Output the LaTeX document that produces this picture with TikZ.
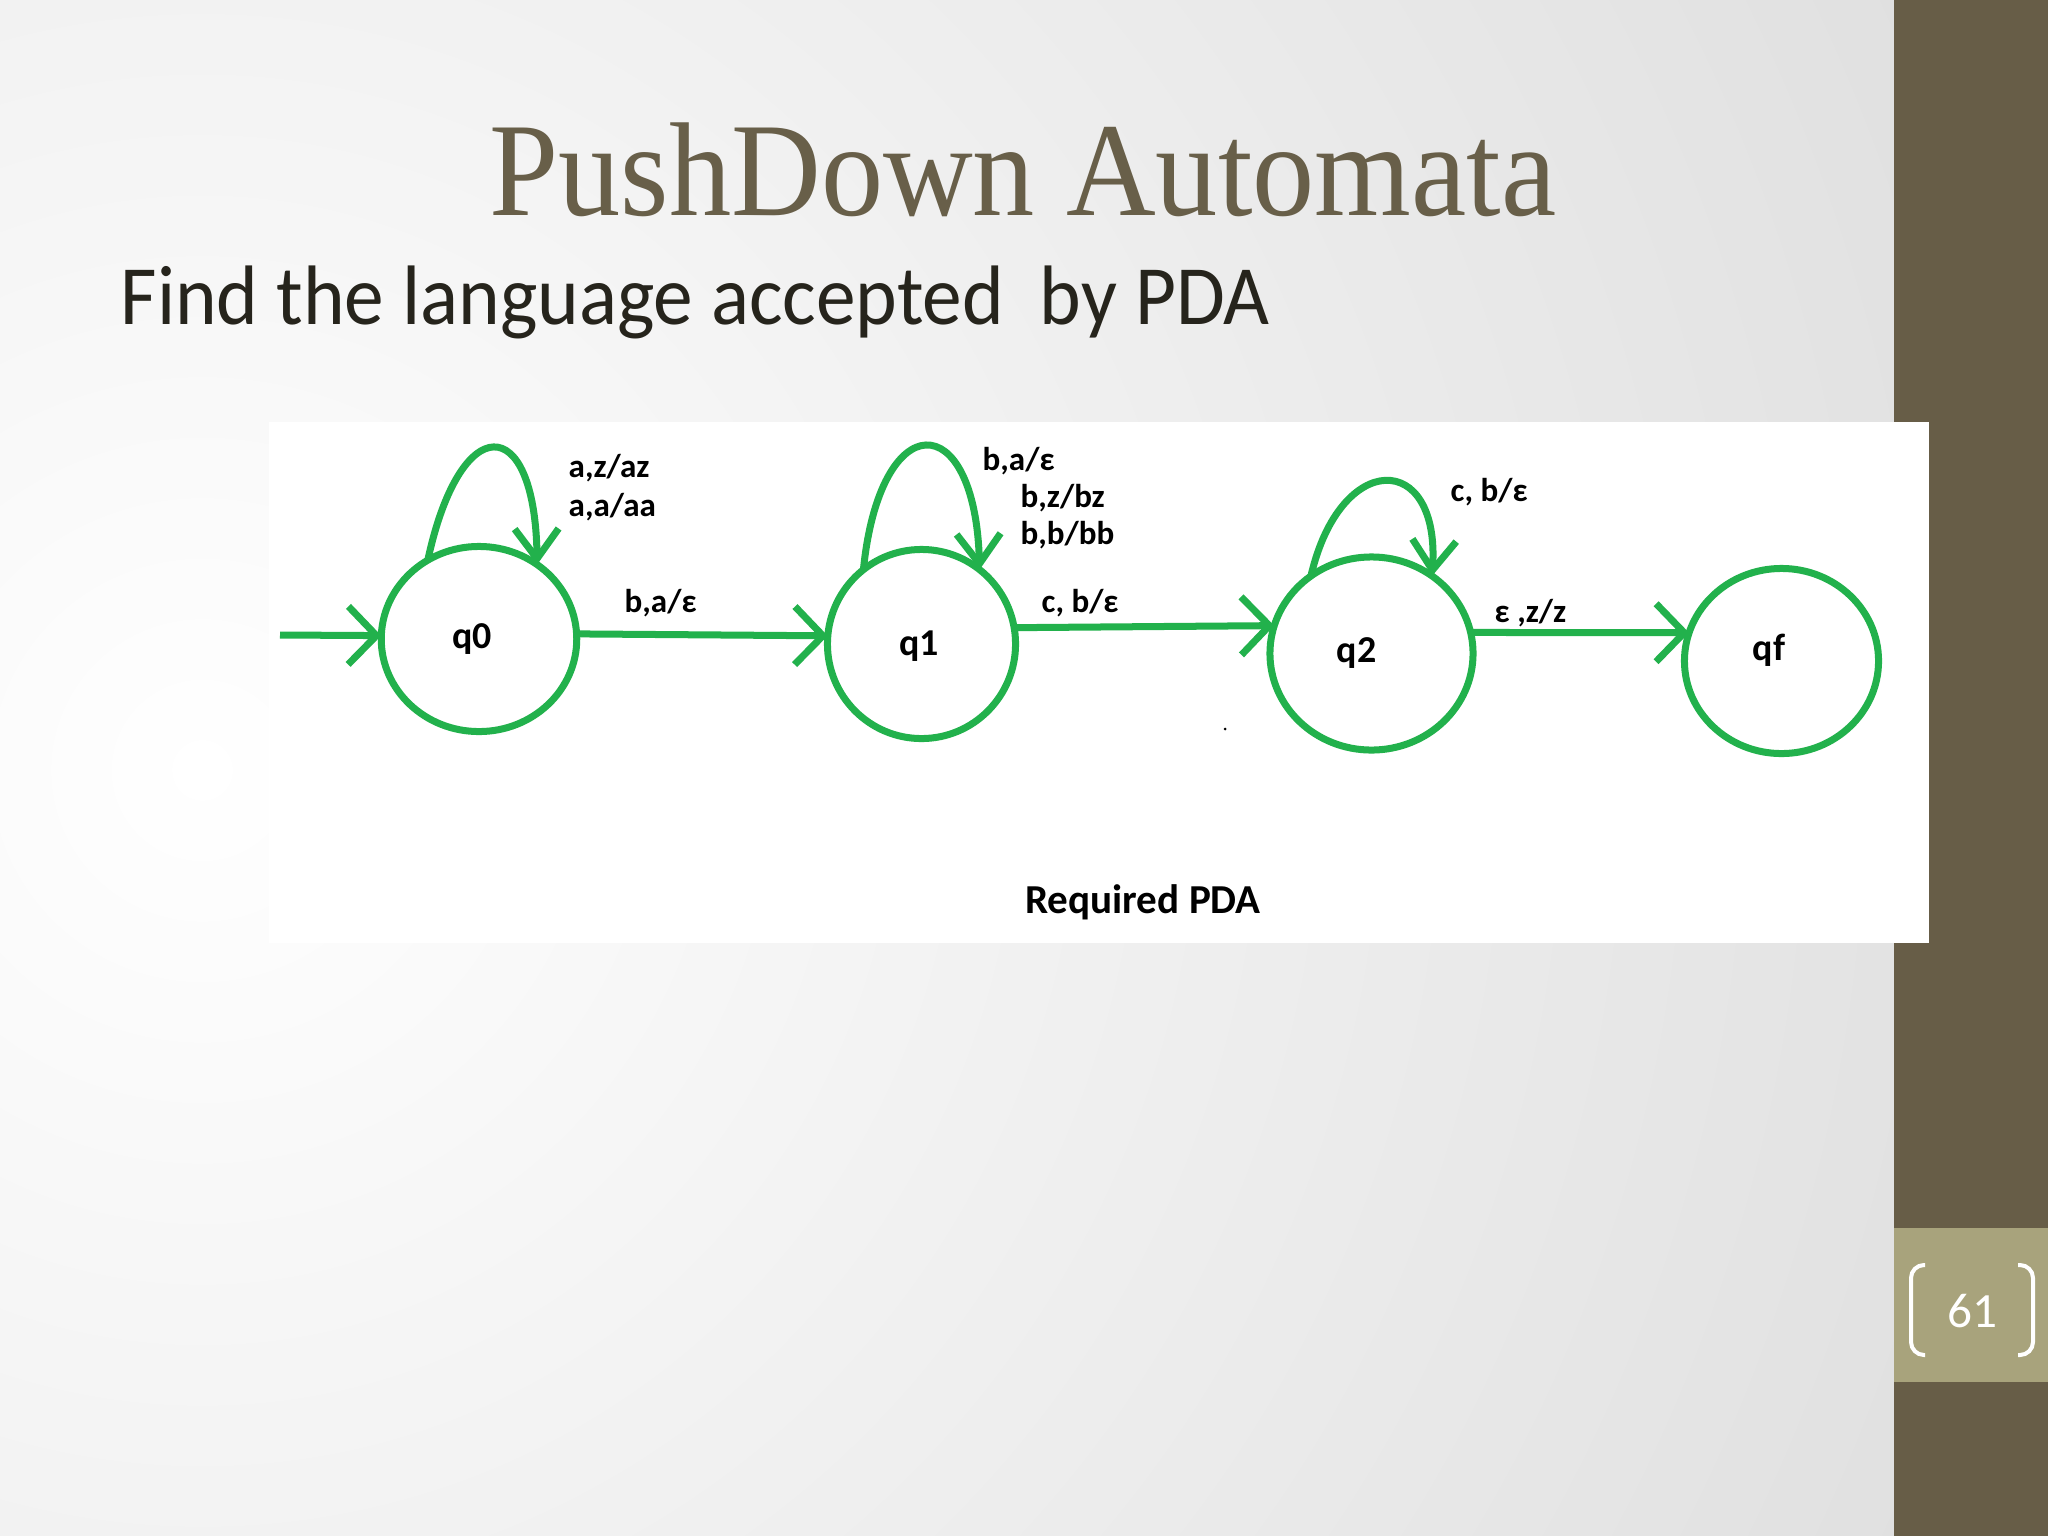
\documentclass[tikz,border=0pt]{standalone}
\usepackage{fontspec}
\usepackage{graphicx}
\setmainfont{Carlito}
\newfontfamily\titlefont{Liberation Serif}
\usetikzlibrary{arrows.meta,shapes.geometric}
\definecolor{pgreen}{RGB}{34,177,76}
\definecolor{oliveD}{RGB}{103,93,71}
\definecolor{oliveL}{RGB}{168,163,124}
\definecolor{titlec}{RGB}{104,95,73}
\definecolor{subc}{RGB}{38,36,28}
\definecolor{bgout}{RGB}{212,212,212}
\begin{document}
\begin{tikzpicture}[x=0.01cm,y=-0.01cm,
  st/.style={draw=pgreen, line width=0.07cm, ellipse, inner sep=0pt, outer sep=0pt},
  edge/.style={draw=pgreen, line width=0.07cm, -{Straight Barb[length=8pt,width=16.5pt]}},
  loopedge/.style={draw=pgreen, line width=0.07cm, -{Straight Barb[length=8.5pt,width=12.5pt]}},
  elab/.style={font=\bfseries\fontsize{9.4pt}{11pt}\selectfont, anchor=west, inner sep=0pt},
  slab/.style={font=\bfseries\fontsize{10.8pt}{13pt}\selectfont, inner sep=0pt},
]
\useasboundingbox (0,0) rectangle (2048,1536);
% background
\begin{scope}
\clip (0,0) rectangle (2048,1536);
\fill[bgout] (0,0) rectangle (2048,1536);
\shade[inner color=white, outer color=bgout] (202,770) circle (26cm);
\end{scope}
% sidebar
\fill[oliveD] (1894,0) rectangle (2048,1536);
\fill[oliveL] (1894,1228) rectangle (2048,1382);
\draw[white, line width=0.04cm, rounded corners=0.13cm] (1925,1265) -- (1911,1265) -- (1911,1355) -- (1925,1355);
\draw[white, line width=0.04cm, rounded corners=0.13cm] (2018,1265) -- (2033,1265) -- (2033,1355) -- (2018,1355);
\node[text=white, font=\fontsize{14pt}{16pt}\selectfont, inner sep=0pt] (pg) at (1972,1311) {61};
% titles
\node[anchor=base, text=titlec, font=\titlefont\fontsize{38pt}{40pt}\selectfont, inner sep=0pt] (title) at (1023,215) {\scalebox{0.93}[1]{PushDown Automata}};
\node[anchor=base west, inner sep=0pt, text=subc, font=\fontsize{24pt}{28pt}\selectfont] (sub) at (120,324) {\scalebox{0.94}[1]{Find the language accepted\ \ by PDA}};
% panel
\fill[white] (269,422) rectangle (1929,943);
% states
\node[st, minimum width=1.954cm, minimum height=1.85cm, label={[slab, xshift=-0.07cm]center:q0}] (q0) at (479,639) {};
\node[st, minimum width=1.88cm, minimum height=1.89cm, label={[slab, xshift=-0.025cm, yshift=-0.025cm]center:q1}] (q1) at (921.5,644) {};
\node[st, minimum width=2.03cm, minimum height=1.93cm, label={[slab, xshift=-0.15cm]center:q2}] (q2) at (1371.5,653.5) {};
\node[st, minimum width=1.94cm, minimum height=1.85cm, label={[slab, xshift=-0.125cm, yshift=0.11cm]center:qf}] (qf) at (1781.5,661) {};
% edges
\coordinate (init) at (280,635);
\draw[edge] (init) -- (q0.178);
\draw[edge] (q0.3) -- (q1.175);
\draw[edge] (q1.10) -- (q2.164);
\draw[edge] (q2.12) -- (qf.163);
% loops
\draw[loopedge] (q0.123) .. controls (460,410) and (535,410) .. (q0.52);
\draw[loopedge] (q1.128) .. controls (880,405) and (975,405) .. (q1.52);
\draw[loopedge] (q2.128) .. controls (1340,450) and (1440,450) .. (q2.52);
% labels
\node[elab] (l1) at (568,468) {a,z/az};
\node[elab] (l2) at (568,507) {a,a/aa};
\node[elab] (l3) at (624,603) {b,a/ε};
\node[elab] (l4) at (982,461) {b,a/ε};
\node[elab] (l5) at (1020,498) {b,z/bz};
\node[elab] (l6) at (1020,535) {b,b/bb};
\node[elab] (l7) at (1041,603) {c, b/ε};
\node[elab] (l8) at (1450,492) {c, b/ε};
\node[elab] (l9) at (1494,613) {ε ,z/z};
\node[font=\bfseries\fontsize{11.7pt}{14pt}\selectfont, inner sep=0pt] (cap) at (1143,902) {Required PDA};
\fill (1225,729) circle (0.015cm);
\end{tikzpicture}
\end{document}
